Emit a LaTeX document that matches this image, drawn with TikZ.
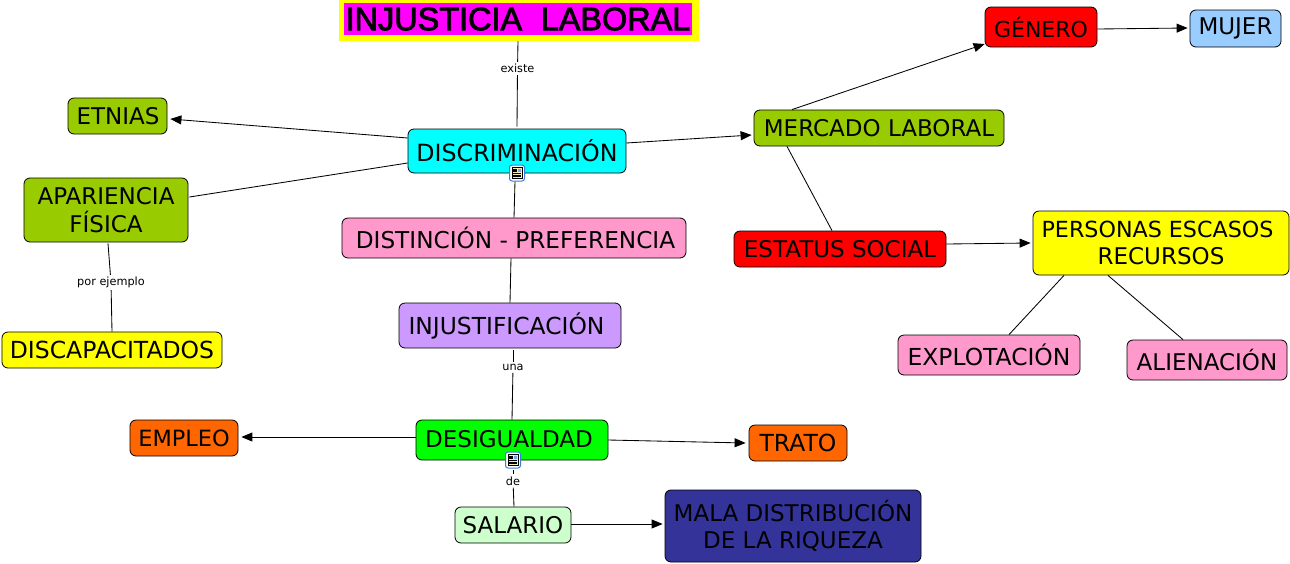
\documentclass[tikz,border=0pt]{standalone}
\usepackage{fontspec}
\setmainfont{DejaVu Sans}
\newfontfamily\titlefont[FakeBold=2.5]{Liberation Sans}
\usetikzlibrary{arrows.meta}
\definecolor{cmagenta}{HTML}{FF00FF}
\definecolor{ccyan}{HTML}{00FFFF}
\definecolor{colive}{HTML}{99CC00}
\definecolor{cpink}{HTML}{FF99CC}
\definecolor{cviolet}{HTML}{CC99FF}
\definecolor{cgreen}{HTML}{00FF00}
\definecolor{corange}{HTML}{FF6600}
\definecolor{cmint}{HTML}{CCFFCC}
\definecolor{cnavy}{HTML}{333399}
\definecolor{cred}{HTML}{FF0000}
\definecolor{cblue}{HTML}{99CCFF}
\definecolor{cyell}{HTML}{FFFF00}
\definecolor{ciconb}{HTML}{3B7DD8}
\definecolor{ciconf}{HTML}{F7EDB5}
\tikzset{
  concept/.style={draw=black,line width=0.8pt,rounded corners=6pt,inner sep=0pt,align=center,
    font=\fontsize{23}{27.5}\selectfont,text=black},
  linkword/.style={inner sep=2pt,font=\fontsize{11.3}{13}\selectfont,text=black,fill=white},
  link/.style={draw=black,line width=0.85pt},
  arrowlink/.style={link,-{Triangle[length=11pt,width=9pt]}},
  iconbox/.style={draw=ciconb,fill=white,line width=1pt,rounded corners=2.5pt,minimum width=15pt,minimum height=16pt,inner sep=0pt},
}
\newcommand{\concept}[7]{\node[concept,fill=#6,minimum width={#4-#2},minimum height={#5-#3}] (#1) at ({(#2+#4)/2},{(#3+#5)/2}) {#7};}
\newcommand{\docicon}[3]{%
  \node[iconbox] (#1) at (#2,#3) {};
  \fill[ciconf] ([shift={(-5pt,5.5pt)}]#1.center) rectangle ([shift={(5pt,-5.5pt)}]#1.center);
  \draw[line width=0.5pt] ([shift={(-5pt,5.5pt)}]#1.center) rectangle ([shift={(5pt,-5.5pt)}]#1.center);
  \fill[ciconb!70] ([shift={(0.8pt,4.5pt)}]#1.center) rectangle ([shift={(4pt,1.2pt)}]#1.center);
  \foreach \yy in {4,2.7,1.4} \draw[line width=0.5pt] ([shift={(-4pt,\yy pt)}]#1.center) -- ([shift={(0pt,\yy pt)}]#1.center);
  \foreach \yy in {-0.3,-2,-3.7} \draw[line width=0.5pt] ([shift={(-4pt,\yy pt)}]#1.center) -- ([shift={(4pt,\yy pt)}]#1.center);
}
\begin{document}
\begin{tikzpicture}[x=1pt,y=-1pt]
\useasboundingbox (0,0) rectangle (1290,563);
% title
\fill[cyell] (339,0) rectangle (699,41);
\node[fill=cmagenta,minimum width=348pt,minimum height=32pt,inner sep=0pt,text=black,
  font=\titlefont\fontsize{32.4}{36}\selectfont] (title) at (518,19) {INJUSTICIA\hspace{0.3em} LABORAL};
% concepts
\concept{disc}{408}{129}{626}{173}{ccyan}{\raisebox{1.5pt}{\fontsize{23.7}{27.5}\selectfont DISCRIMINACIÓN}}
\concept{etnias}{68}{98}{167}{134}{colive}{\hspace*{1pt}ETNIAS}
\concept{apar}{24}{178}{188}{242}{colive}{APARIENCIA\\FÍSICA}
\concept{discap}{2}{332}{222}{368}{cyell}{\fontsize{23.5}{27.5}\selectfont DISCAPACITADOS}
\concept{dist}{342}{218}{686}{258}{cpink}{\fontsize{23.2}{27.5}\selectfont\hspace*{3pt}DISTINCIÓN - PREFERENCIA}
\concept{injust}{399}{303}{621}{348}{cviolet}{\raisebox{-1pt}{\fontsize{23.4}{27.5}\selectfont INJUSTIFICACIÓN}\hspace*{7pt}}
\concept{desig}{416}{420}{608}{460}{cgreen}{\raisebox{2pt}{DESIGUALDAD}\hspace*{6pt}}
\concept{empleo}{130}{420}{238}{456}{corange}{\fontsize{22.4}{27.5}\selectfont EMPLEO}
\concept{trato}{749}{425}{847}{461}{corange}{\fontsize{23.5}{27.5}\selectfont TRATO}
\concept{salario}{455}{507}{571}{543}{cmint}{SALARIO}
\concept{mala}{665}{490}{921}{562}{cnavy}{MALA DISTRIBUCIÓN\\DE LA RIQUEZA}
\concept{mercado}{754}{110}{1004}{146}{colive}{MERCADO LABORAL}
\concept{genero}{985}{7}{1097}{47}{cred}{\raisebox{-1pt}{\fontsize{22}{27.5}\selectfont GÉNERO}}
\concept{mujer}{1190}{10}{1281}{47}{cblue}{\raisebox{-2pt}{MUJER}}
\concept{estatus}{734}{231}{946}{267}{cred}{ESTATUS SOCIAL}
\concept{personas}{1033}{211}{1289}{275}{cyell}{\fontsize{22.2}{27.5}\selectfont PERSONAS ESCASOS\hspace*{7pt}\\RECURSOS}
\concept{explot}{898}{335}{1080}{375}{cpink}{\fontsize{23.4}{27.5}\selectfont EXPLOTACIÓN}
\concept{alien}{1127}{340}{1287}{380}{cpink}{ALIENACIÓN}
% link words
\node[linkword] (existe) at (517.5,68.5) {existe};
\node[linkword] (porej) at (111,282.5) {por ejemplo};
\node[linkword] (una) at (513,367.5) {una};
\node[linkword] (de) at (513,481) {de};
% connectors
\path[link] ([yshift=-6pt]title.south) -- (existe);
\path[link] (existe) -- ([yshift=2pt]disc.north);
\path[arrowlink] ([yshift=13pt]disc.west) -- ([shift={(3pt,-3pt)}]etnias.east);
\path[link] ([yshift=-12pt]disc.west) -- ([shift={(1pt,13pt)}]apar.east);
\path[arrowlink] ([yshift=8pt]disc.east) -- ([xshift=-2pt,yshift=-7pt]mercado.west);
\path[link] ([yshift=-8pt,xshift=-2pt]disc.south) -- ([xshift=0pt]dist.north);
\path[link] ([xshift=-3pt]dist.south) -- ([xshift=0pt]injust.north);
\path[link] ([xshift=3pt,yshift=-2pt]injust.south) -- (una);
\path[link] (una) -- ([xshift=0pt]desig.north);
\path[link] ([xshift=2pt,yshift=-1pt]apar.south) -- (porej);
\path[link] (porej) -- ([xshift=0pt]discap.north);
\path[arrowlink] ([yshift=3pt]desig.west) -- ([xshift=3pt,yshift=1pt]empleo.east);
\path[arrowlink] ([yshift=0pt]desig.east) -- ([xshift=-3pt]trato.west);
\path[link] ([xshift=1pt,yshift=-10pt]desig.south) -- (de);
\path[link] (de) -- ([xshift=1pt]salario.north);
\path[arrowlink] ([yshift=1pt]salario.east) -- ([xshift=-2pt,yshift=2pt]mala.west);
\path[arrowlink] ([xshift=-87pt]mercado.north) -- ([yshift=-17pt,xshift=0pt]genero.west);
\path[link] ([xshift=-92pt]mercado.south) -- ([xshift=-8pt]estatus.north);
\path[arrowlink] ([yshift=-2pt]genero.east) -- ([xshift=-2pt,yshift=0.5pt]mujer.west);
\path[arrowlink] ([yshift=5pt]estatus.east) -- ([xshift=-2pt,yshift=0pt]personas.west);
\path[link] ([xshift=-97pt]personas.south) -- ([xshift=20pt]explot.north);
\path[link] ([xshift=-53pt]personas.south) -- ([xshift=-24pt]alien.north);
% icons
\docicon{iconA}{517}{173}
\docicon{iconB}{513}{460}
\end{tikzpicture}
\end{document}
